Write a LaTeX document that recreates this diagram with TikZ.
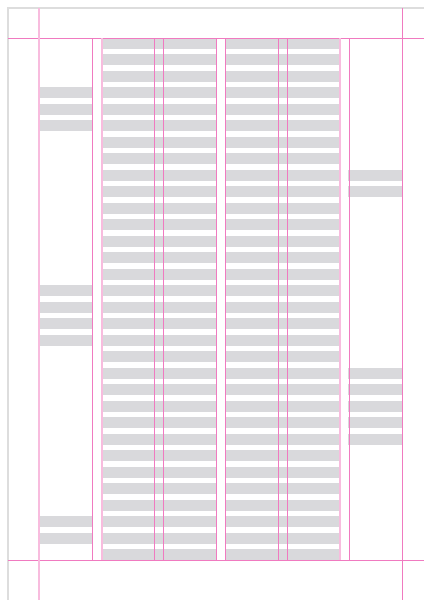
\documentclass[tikz,border=0pt]{standalone}
\definecolor{guidePink}{RGB}{240,122,192}
\definecolor{guidePale}{RGB}{248,188,222}
\definecolor{barGray}{RGB}{217,217,220}
\definecolor{pageGray}{RGB}{221,221,221}
\usepackage{tikz}

\begin{document}
\begin{tikzpicture}[
    x=1pt, y=-1pt,
    page/.style={draw=pageGray, line width=1.5pt},
    guide/.style={draw=guidePink, line width=1pt},
    paleguide/.style={draw=guidePale, line width=2pt},
    bar/.style={fill=barGray},
  ]
    \useasboundingbox (0,0) rectangle (424,600);

    % Page edge
    \draw[page] (8,600) -- (8,8) -- (424,8);

    % Body: 32 baseline rows over the four text columns
    \foreach \k in {0,...,31} {
      \pgfmathsetmacro{\rowB}{48.5+16.5*\k}
      \pgfmathsetmacro{\rowT}{max(38.3,\rowB-10.9)}
      \fill[bar] (101.7,\rowT) rectangle (216.7,\rowB);
      \fill[bar] (225.3,\rowT) rectangle (340.3,\rowB);
    }

    % Left margin column
    \foreach \k in {3,4,5,15,16,17,18,29,30} {
      \fill[bar] (39.3,{48.5+16.5*\k-10.9}) rectangle (92.3,{48.5+16.5*\k});
    }

    % Right margin column
    \foreach \k in {8,9,20,21,22,23,24} {
      \fill[bar] (347.7,{48.5+16.5*\k-10.9}) rectangle (402.7,{48.5+16.5*\k});
    }

    % Guides: margins
    \draw[guide] (8,38.3) -- (424,38.3);
    \draw[guide] (8,560.3) -- (424,560.3);
    \draw[paleguide] (39,8) -- (39,600);
    \draw[guide] (402.7,8) -- (402.7,600);

    % Guides: columns and gutters
    \foreach \x in {92.3,154.3,163.7,216.7,225.3,278,287.3,349.3} {
      \draw[guide] (\x,38.3) -- (\x,560.3);
    }
    \foreach \x in {101.7,340.3} {
      \draw[paleguide] (\x,38.3) -- (\x,560.3);
    }
\end{tikzpicture}
\end{document}
